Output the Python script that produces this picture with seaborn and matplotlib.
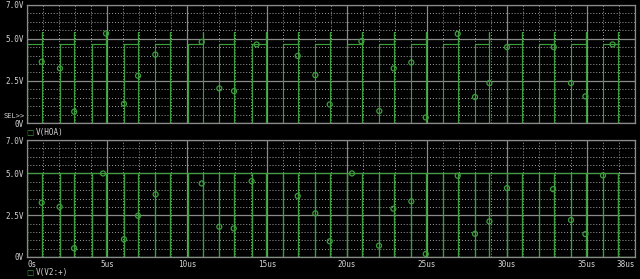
import numpy as np
import pandas as pd
import matplotlib
matplotlib.use("Agg")
import matplotlib.pyplot as plt
import seaborn as sns

# ---------------- data ----------------
rise_times = [0.0, 2.05, 4.05, 6.05, 8.03, 10.05, 12.02, 14.04, 16.02, 18.02,
              20.02, 22.02, 24.02, 26.02, 28.0, 30.0, 32.02, 34.02, 36.0]
fall_times = [0.92, 2.95, 4.95, 6.92, 8.95, 10.97, 12.96, 14.94, 16.94, 18.92,
              20.94, 22.94, 24.94, 26.92, 28.9, 30.94, 32.94, 34.92, 36.92]
hoa_high = 4.67
hoa_spike = 5.4
v2_high = 5.0
v2_low = 0.0

hoa_mark_t = [0.92, 2.06, 2.95, 4.94, 6.06, 6.94, 8.02, 10.92, 12.02, 12.94,
              14.35, 16.92, 18.02, 18.92, 20.9, 22.02, 22.92, 24.02, 24.92,
              26.92, 28.0, 28.9, 30.0, 32.92, 34.0, 34.9, 36.6]
hoa_mark_v = [3.63, 3.24, 0.67, 5.31, 1.14, 2.8, 4.06, 4.81, 2.05, 1.89,
              4.66, 3.98, 2.84, 1.1, 4.85, 0.71, 3.24, 3.59, 0.33,
              5.29, 1.54, 2.37, 4.5, 4.5, 2.37, 1.58, 4.66]

v2_mark_t = [0.92, 2.04, 2.94, 4.75, 6.06, 6.94, 8.04, 10.92, 12.02, 12.92,
             14.04, 16.92, 18.02, 18.92, 20.31, 22.0, 22.9, 24.02, 24.92,
             26.92, 28.0, 28.9, 30.0, 32.88, 34.0, 34.9, 36.0]
v2_mark_v = [3.25, 3.0, 0.52, 5.0, 1.06, 2.47, 3.75, 4.4, 1.81, 1.71,
             4.54, 3.65, 2.61, 0.94, 5.0, 0.68, 2.89, 3.33, 0.18,
             4.86, 1.39, 2.13, 4.12, 4.06, 2.21, 1.37, 4.88]

x_ticks = [0, 5, 10, 15, 20, 25, 30, 35, 38]
x_labels = ["0s", "5us", "10us", "15us", "20us", "25us", "30us", "35us", "38us"]
y_ticks = [0, 2.5, 5.0, 7.0]
y_labels = ["0V", "2.5V", "5.0V", "7.0V"]
t_end = 38.0

# ---------------- build trace paths ----------------
hx, hy = [], []
for r, f in zip(rise_times, fall_times):
    hx += [r, r, f, f, f]
    hy += [0, hoa_high, hoa_high, hoa_spike, 0]
hx += [t_end]
hy += [0]
hoa_df = pd.DataFrame({"t": hx, "v": hy})

edges = sorted(rise_times + fall_times)
vx, vy = [edges[0], edges[0]], [v2_low, v2_high]
for e in edges[1:]:
    vx += [e, e, e]
    vy += [v2_high, v2_low, v2_high]
vx += [edges[-1], t_end, 0.0]
vy += [v2_low, v2_low, v2_low]
v2_df = pd.DataFrame({"t": vx, "v": vy})

hoa_m = pd.DataFrame({"t": hoa_mark_t, "v": hoa_mark_v})
v2_m = pd.DataFrame({"t": v2_mark_t, "v": v2_mark_v})

# ---------------- style ----------------
sns.set_style("dark")
plt.rcParams["font.family"] = ["DejaVu Sans Mono"]
green = "#3c9f3c"
txt = "#d4d4d4"
major_c = "#8a8a8a"
minor_c = "#a0a0a0"

fig = plt.figure(figsize=(6.4, 2.79), dpi=100, facecolor="black")
W, H = 640.0, 279.0
def add_ax(x0, x1, ytop, ybot):
    return fig.add_axes([x0 / W, 1 - ybot / H, (x1 - x0) / W, (ybot - ytop) / H])

ax1 = add_ax(27, 635, 5, 123)
ax2 = add_ax(27, 635, 140, 257)

for ax in (ax1, ax2):
    ax.set_facecolor("black")
    ax.set_xticks(x_ticks)
    ax.set_xticks(np.arange(0, t_end + 0.5, 1), minor=True)
    ax.set_yticks(y_ticks)
    ax.set_yticks(np.arange(0, 7.01, 0.5), minor=True)
    ax.set_yticklabels(y_labels)
    ax.grid(True, which="major", color=major_c, linewidth=0.9, linestyle="-")
    ax.grid(True, which="minor", color=minor_c, linewidth=0.7, linestyle=(0, (1, 2)))
    ax.set_axisbelow(True)
    ax.tick_params(which="both", length=0, labelsize=5.5, colors=txt, pad=2)
    for s in ax.spines.values():
        s.set_color(major_c)
        s.set_linewidth(0.9)
        s.set_visible(True)

sns.lineplot(data=hoa_df, x="t", y="v", sort=False, estimator=None, ax=ax1,
             color=green, linewidth=0.85)
sns.scatterplot(data=hoa_m, x="t", y="v", ax=ax1, marker="o", s=13,
                facecolor="none", edgecolor=green, linewidth=0.9, zorder=5)
sns.lineplot(data=v2_df, x="t", y="v", sort=False, estimator=None, ax=ax2,
             color=green, linewidth=0.85)
sns.scatterplot(data=v2_m, x="t", y="v", ax=ax2, marker="o", s=13,
                facecolor="none", edgecolor=green, linewidth=0.9, zorder=5)

for ax in (ax1, ax2):
    ax.set_xlabel("")
    ax.set_ylabel("")
    ax.set_xlim(0, t_end)
    ax.set_ylim(0, 7)

ax1.set_xticklabels([])
ax2.set_xticklabels(x_labels)
lbls = ax2.get_xticklabels()
lbls[-1].set_ha("right")
lbls[0].set_ha("left")

# SEL>> marker label
fig.text(3 / W, 1 - 116 / H, "SEL>>", color=txt, fontsize=5.0, ha="left", va="center")

# legends
for ypix, name in ((132, "V(HOA)"), (273, "V(V2:+)")):
    fig.text(30 / W, 1 - ypix / H, "\u25a1", color=green, fontsize=5.5,
             ha="center", va="center", family=["DejaVu Sans"])
    fig.text(36 / W, 1 - ypix / H, name, color=txt, fontsize=5.5, ha="left", va="center")

fig.savefig("out.png", dpi=100, facecolor="black")
